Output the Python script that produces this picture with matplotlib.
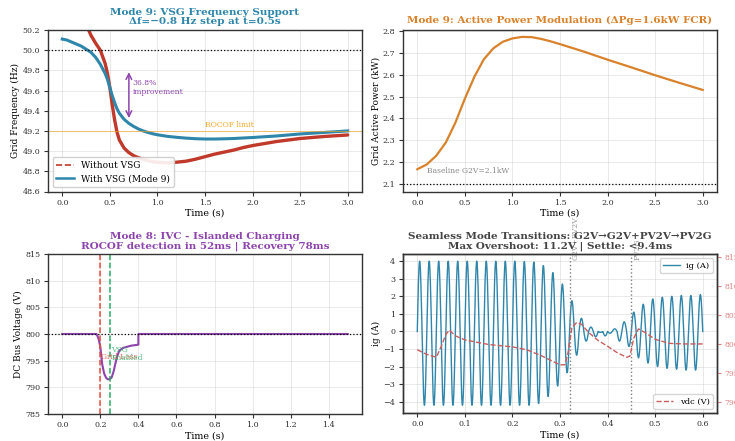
import numpy as np
import matplotlib
matplotlib.use("Agg")
import matplotlib.pyplot as plt
from matplotlib.lines import Line2D

plt.rcParams.update({
    "font.family": ["DejaVu Serif"],
    "axes.edgecolor": "#333333",
    "axes.linewidth": 1.0,
    "axes.grid": True,
    "grid.color": "#cccccc",
    "grid.alpha": 0.5,
    "grid.linewidth": 0.6,
    "xtick.labelsize": 5.8,
    "ytick.labelsize": 5.8,
    "xtick.color": "#333333",
    "ytick.color": "#333333",
    "xtick.major.size": 3,
    "ytick.major.size": 3,
    "xtick.major.pad": 2.2,
    "ytick.major.pad": 2.5,
    "axes.labelsize": 6.8,
    "axes.labelpad": 1.5,
})

# ---------------- data: Mode 9 frequency ----------------
t_freq = [0.0, 0.05, 0.1, 0.15, 0.2, 0.25, 0.3, 0.35, 0.4, 0.45, 0.475, 0.5, 0.525, 0.55,
          0.575, 0.6, 0.65, 0.7, 0.75, 0.8, 0.85, 0.9, 0.95, 1.0, 1.1, 1.2, 1.3, 1.4, 1.5,
          1.6, 1.7, 1.8, 1.9, 2.0, 2.25, 2.5, 2.75, 3.0]
f_without = [50.80, 50.72, 50.62, 50.50, 50.38, 50.26, 50.15, 50.07, 50.00, 49.87, 49.77,
             49.63, 49.46, 49.31, 49.19, 49.11, 49.03, 48.985, 48.955, 48.935, 48.92,
             48.905, 48.895, 48.89, 48.885, 48.89, 48.90, 48.92, 48.945, 48.97, 48.99,
             49.01, 49.035, 49.055, 49.095, 49.125, 49.145, 49.16]
f_with = [50.11, 50.10, 50.08, 50.06, 50.04, 50.01, 49.98, 49.93, 49.86, 49.77, 49.71,
          49.63, 49.55, 49.48, 49.42, 49.375, 49.315, 49.275, 49.245, 49.22, 49.20, 49.185,
          49.172, 49.162, 49.147, 49.137, 49.129, 49.123, 49.12, 49.12, 49.122, 49.125,
          49.13, 49.135, 49.15, 49.17, 49.185, 49.20]

# ---------------- data: Mode 9 active power ----------------
t_pow = [0.0, 0.1, 0.2, 0.3, 0.4, 0.5, 0.6, 0.7, 0.8, 0.9, 1.0, 1.1, 1.2, 1.3, 1.4, 1.5,
         1.75, 2.0, 2.25, 2.5, 2.75, 3.0]
p_grid = [2.168, 2.19, 2.23, 2.29, 2.38, 2.49, 2.59, 2.67, 2.72, 2.75, 2.765, 2.772,
          2.771, 2.763, 2.752, 2.739, 2.705, 2.668, 2.633, 2.597, 2.563, 2.53]

# ---------------- data: Mode 8 DC bus ----------------
t_dc = [0.0, 0.18, 0.19, 0.2, 0.21, 0.22, 0.23, 0.24, 0.25, 0.26, 0.27, 0.28, 0.29, 0.3,
        0.32, 0.34, 0.36, 0.38, 0.4, 0.4, 1.5]
v_dc = [800, 800, 799.2, 797.6, 794.3, 792.6, 791.8, 791.5, 791.5, 791.9, 793.0, 794.6,
        796.0, 796.9, 797.4, 797.6, 797.8, 797.9, 798.0, 800, 800]

# ---------------- data: seamless transitions ----------------
# signed extreme of ig in each 10 ms half-cycle (0-10 ms, 10-20 ms, ...)
ig_half_peaks = [4.0, -4.2, 4.0, -4.2, 4.0, -4.2, 4.0, -4.2, 4.0, -4.2,
                 4.0, -4.2, 4.0, -4.2, 4.0, -4.2, 4.0, -4.2, 4.0, -4.2,
                 4.0, -4.2, 3.98, -4.2, 3.95, -4.1, 3.75, -3.7, 3.35, -3.1,
                 2.7, -2.35, 1.75, -1.35, 0.75, -0.55, 0.25, -0.3, -0.05, -0.25,
                 -0.1, 0.15, -0.55, 0.55, -0.85, 1.1, -1.5, 1.55, -1.8, 1.85,
                 -2.0, 1.95, -2.1, 2.0, -2.15, 2.05, -2.2, 2.05, -2.2, 2.1]
t_vdc = [0.0, 0.02, 0.04, 0.05, 0.06, 0.067, 0.08, 0.1, 0.15, 0.2, 0.23, 0.26, 0.28, 0.3,
         0.31, 0.317, 0.325, 0.335, 0.345, 0.36, 0.38, 0.4, 0.42, 0.44, 0.447, 0.455,
         0.465, 0.48, 0.5, 0.53, 0.56, 0.6]
vdc = [799.0, 798.2, 797.7, 799.5, 801.6, 802.4, 801.4, 800.7, 799.9, 799.5, 799.0, 798.0,
       797.2, 796.4, 796.4, 798.5, 802.8, 803.7, 803.4, 802.0, 800.6, 799.6, 798.5, 797.7,
       797.9, 801.0, 802.6, 801.9, 800.8, 800.1, 800.0, 800.0]
transition_times = [0.32, 0.45]
transition_labels = ["G2V+PV2V", "PV2G"]

# ---------------- figure ----------------
fig = plt.figure(figsize=(7.35, 4.41), dpi=100)
W, H = 735.0, 441.0

def add_ax(x0, x1, y0, y1):
    return fig.add_axes([x0 / W, 1 - y1 / H, (x1 - x0) / W, (y1 - y0) / H])

ax1 = add_ax(48, 362, 30, 191.5)
ax2 = add_ax(403, 717, 30, 191.5)
ax3 = add_ax(48, 362, 254, 414)
ax4 = add_ax(403, 717, 254, 413)

blue = "#2E86AB"
red = "#C0392B"
orange = "#D9822B"
purple = "#8E44AD"

# ---- panel 1 ----
ax1.plot(t_freq, f_without, color=red, lw=2.4, solid_capstyle="round")
ax1.plot(t_freq, f_with, color=blue, lw=2.2)
ax1.axhline(50.0, color="black", ls=":", lw=0.9)
ax1.axhline(49.2, color="#F5A623", lw=0.8, alpha=0.6)
ax1.text(1.5, 49.215, "ROCOF limit", color="#F5A623", fontsize=5.5, va="bottom")
ax1.annotate("", xy=(0.7, 49.3), xytext=(0.7, 49.81),
             arrowprops=dict(arrowstyle="<->", color=purple, lw=1.1))
ax1.text(0.74, 49.63, "36.8%\nimprovement", color=purple, fontsize=5.5, va="center")
ax1.set_ylim(48.6, 50.2)
ax1.set_xlim(-0.15, 3.15)
ax1.set_yticks(np.arange(48.6, 50.21, 0.2))
ax1.set_xlabel("Time (s)")
ax1.set_ylabel("Grid Frequency (Hz)", fontsize=6.5)
ax1.set_title("Mode 9: VSG Frequency Support\n\u0394f=\u22120.8 Hz step at t=0.5s",
              color=blue, fontsize=7.5, fontweight="bold", pad=4, linespacing=1.1)
handles = [Line2D([], [], color=red, ls="--", lw=1.2),
           Line2D([], [], color=blue, lw=1.8)]
ax1.legend(handles, ["Without VSG", "With VSG (Mode 9)"], loc="lower left", fontsize=6.5,
           framealpha=0.9, handlelength=2.0)

# ---- panel 2 ----
ax2.plot(t_pow, p_grid, color=orange, lw=1.6)
ax2.axhline(2.1, color="black", ls=":", lw=0.9)
ax2.text(0.1, 2.16, "Baseline G2V=2.1kW", color="#888888", fontsize=5.5, va="center")
ax2.set_ylim(2.0665, 2.8035)
ax2.set_xlim(-0.15, 3.15)
ax2.set_xlabel("Time (s)")
ax2.set_ylabel("Grid Active Power (kW)", fontsize=6.5)
ax2.set_title("Mode 9: Active Power Modulation (\u0394Pg=1.6kW FCR)",
              color=orange, fontsize=7.5, fontweight="bold", pad=5)

# ---- panel 3 ----
ax3.plot(t_dc, v_dc, color=purple, lw=1.5)
ax3.axhline(800, color="black", ls=":", lw=0.9)
ax3.axvline(0.2, color="#E74C3C", ls="--", lw=1.1)
ax3.axvline(0.252, color="#27AE60", ls="--", lw=1.1)
ax3.text(0.205, 795.6, "Grid Loss", color="#E74C3C", fontsize=5.5, va="center", alpha=0.8)
ax3.text(0.258, 796.3, "VSG\nEnabled", color="#27AE60", fontsize=5.5, va="center",
         linespacing=1.0, alpha=0.8)
ax3.set_ylim(785, 815)
ax3.set_xlim(-0.075, 1.575)
ax3.set_xlabel("Time (s)")
ax3.set_ylabel("DC Bus Voltage (V)", fontsize=6.5)
ax3.set_title("Mode 8: IVC - Islanded Charging\nROCOF detection in 52ms | Recovery 78ms",
              color=purple, fontsize=7.5, fontweight="bold", pad=4, linespacing=1.1)

# ---- panel 4 ----
t_fine = np.linspace(0, 0.6, 6001)
k = np.minimum((t_fine / 0.01).astype(int), len(ig_half_peaks) - 1)
ig = np.asarray(ig_half_peaks)[k] * np.abs(np.sin(2 * np.pi * 50 * t_fine))
ax4.plot(t_fine, ig, color=blue, lw=1.0, label="ig (A)")
ax4.set_ylim(-4.64, 4.41)
ax4.set_yticks(np.arange(-4, 5, 1))
ax4.set_xlim(-0.03, 0.63)
ax4.set_xlabel("Time (s)")
ax4.set_ylabel("ig (A)", fontsize=6.5)
for tt, lab in zip(transition_times, transition_labels):
    ax4.axvline(tt, color="gray", ls=":", lw=1.0)
    ax4.text(tt + 0.004, 4.05, lab, rotation=90, color="gray", fontsize=5.5,
             va="bottom", ha="left", alpha=0.8)
ax4.set_title("Seamless Mode Transitions: G2V\u2192G2V+PV2V\u2192PV2G\n"
              "Max Overshoot: 11.2V | Settle: <9.4ms",
              color="#444444", fontsize=7.5, fontweight="bold", pad=4, linespacing=1.1)
ax4b = ax4.twinx()
ax4b.plot(t_vdc, vdc, color="#CD5C5C", ls="--", lw=1.0, label="vdc (V)")
ax4b.set_ylim(788.1, 815.5)
ax4b.grid(False)
ax4b.tick_params(axis="y", colors="#E08080", labelsize=5.5)
ax4.legend(loc="upper right", fontsize=6)
ax4b.legend(loc="lower right", fontsize=6)

fig.savefig("out.png", dpi=100)
